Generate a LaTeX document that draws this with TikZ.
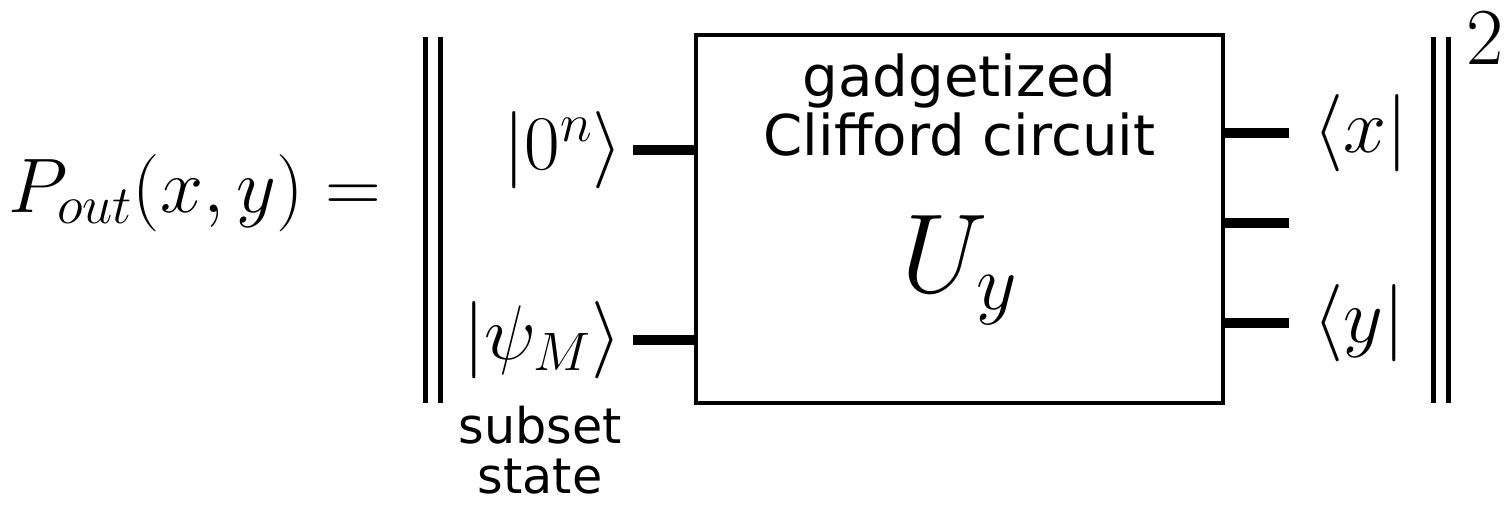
\RequirePackage{fix-cm}
\documentclass[tikz,border=0pt]{standalone}
\usepackage{fontspec}
\setsansfont{DejaVu Sans}
\usetikzlibrary{positioning}

\begin{document}
\begin{tikzpicture}[
    wire/.style={line width=0.19cm},
    bar/.style={line width=0.1cm},
    every node/.style={inner sep=0pt},
    mathlbl/.style={font=\fontsize{44}{50}\selectfont},
    txt/.style={font=\sffamily\fontsize{32}{34}\selectfont, align=center}
]
\useasboundingbox (0,0) rectangle (30.16,10.12);

% --- Nodes ---
\node[mathlbl, anchor=west] (prob) at (0.16,6.26) {$P_{out}(x,y) =$};
\node[draw, line width=0.09cm, minimum width=10.54cm, minimum height=7.36cm] (circ) at (19.19,5.74) {};
\node[txt] (name) at (19.19,8.02) {gadgetized\\Clifford circuit};
\node[font=\fontsize{64}{72}\selectfont] (unit) at (19.19,4.72) {$U_y$};

% --- Inputs ---
\coordinate (in0) at (12.66,7.12);
\coordinate (inpsi) at (12.66,3.32);
\node[mathlbl, left=0.2cm of in0] (ket0) {$|0^n\rangle$};
\node[mathlbl, left=0.22cm of inpsi] (ketpsi) {$|\psi_M\rangle$};
\node[txt, font=\sffamily\fontsize{28}{28.5}\selectfont] (subs) at (10.8,1.12) {subset\\state};
\draw[wire] (in0) -- (in0 -| circ.west);
\draw[wire] (inpsi) -- (inpsi -| circ.west);

% --- Outputs ---
\coordinate (outx) at (25.78,7.46);
\coordinate (outmid) at (25.78,5.66);
\coordinate (outy) at (25.78,3.66);
\node[mathlbl, right=0.48cm of outx] (brax) {$\langle x|$};
\node[mathlbl, right=0.48cm of outy] (bray) {$\langle y|$};
\draw[wire] (outx -| circ.east) -- (outx);
\draw[wire] (outmid -| circ.east) -- (outmid);
\draw[wire] (outy -| circ.east) -- (outy);

% --- Norm bars ---
\draw[bar] (8.5,2.06) -- (8.5,9.38);
\draw[bar] (8.8,2.06) -- (8.8,9.38);
\draw[bar] (28.66,2.06) -- (28.66,9.38);
\draw[bar] (28.96,2.06) -- (28.96,9.38);
\node[font=\fontsize{46}{52}\selectfont] (sq) at (29.7,9.36) {$2$};

\end{tikzpicture}
\end{document}
